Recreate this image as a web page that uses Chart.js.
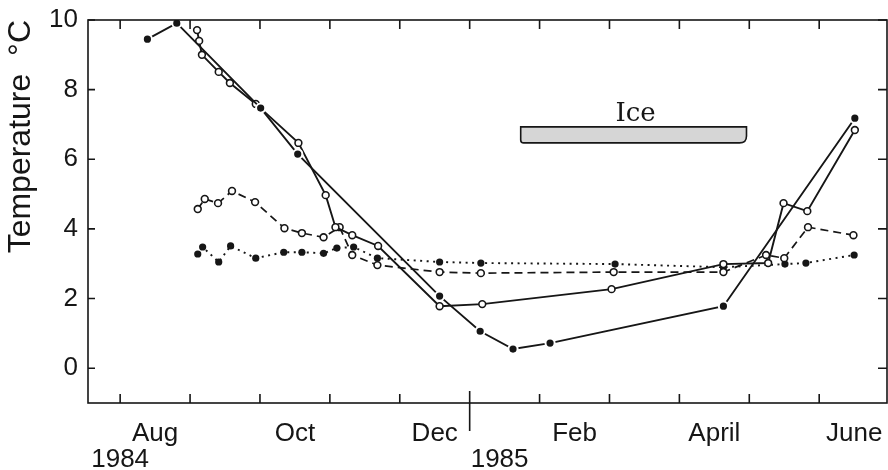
<!DOCTYPE html>
<html>
<head>
<meta charset="utf-8">
<script src="https://cdn.jsdelivr.net/npm/chart.js@4.4.1/dist/chart.umd.min.js"></script>
<style>
  html, body { margin: 0; padding: 0; background: #fff; }
  #wrap { width: 888px; height: 470px; }
</style>
</head>
<body>
<div id="wrap"><canvas id="myChart" width="888" height="470"></canvas></div>
<script>
// x values are months counted from 1 Aug 1984 (5 = 1 Jan 1985)
var monthLabels = ["Aug", "Oct", "Dec", "Feb", "April", "June"];
var monthLabelPos = [0.5, 2.5, 4.5, 6.5, 8.5, 10.5];
var monthBounds = [0, 1, 2, 3, 4, 5, 6, 7, 8, 9, 10, 11];
var yearLabels = ["1984", "1985"];
var yearPos = [0, 5];
var tempTicks = [0, 2, 4, 6, 8, 10];

// solid line, filled circles
var aMonths = [0.39, 0.81, 2.01, 2.54, 4.57, 5.15, 5.62, 6.15, 8.63, 10.51];
var aTemps  = [9.45, 9.91, 7.47, 6.15, 2.07, 1.06, 0.55, 0.72, 1.78, 7.18];

// solid line, open circles
var bMonths = [1.10, 1.13, 1.17, 1.41, 1.57, 1.94, 2.55, 2.94, 3.08, 3.32, 3.69, 4.57, 5.18, 7.03, 8.63, 9.27, 9.49, 9.83, 10.51];
var bTemps  = [9.71, 9.40, 9.00, 8.51, 8.19, 7.59, 6.47, 4.97, 4.05, 3.82, 3.51, 1.78, 1.84, 2.27, 2.99, 3.02, 4.74, 4.51, 6.84];

// dashed line, open circles
var cMonths = [1.11, 1.21, 1.40, 1.60, 1.93, 2.35, 2.60, 2.91, 3.14, 3.32, 3.68, 4.57, 5.16, 7.06, 8.63, 9.24, 9.50, 9.84, 10.49];
var cTemps  = [4.57, 4.86, 4.74, 5.09, 4.77, 4.02, 3.88, 3.76, 4.05, 3.25, 2.96, 2.76, 2.73, 2.76, 2.76, 3.25, 3.16, 4.05, 3.82];

// dotted line, filled circles
var dMonths = [1.11, 1.18, 1.41, 1.58, 1.94, 2.34, 2.60, 2.91, 3.10, 3.34, 3.68, 4.57, 5.16, 7.08, 8.63, 9.51, 9.81, 10.50];
var dTemps  = [3.28, 3.48, 3.05, 3.51, 3.16, 3.33, 3.33, 3.30, 3.45, 3.48, 3.16, 3.05, 3.02, 2.99, 2.90, 2.99, 3.02, 3.25];

// ice cover period (months) and the band it is drawn in (deg C)
var iceSpan = [5.73, 8.96];
var iceBand = [6.47, 6.93];

var ink = "#161616";
var font = "'Liberation Sans', 'DejaVu Sans', sans-serif";

function pts(xs, ys) {
    return xs.map(function (m, i) { return { x: m, y: ys[i] }; });
}

var decorations = {
    id: "decorations",
    beforeDatasetsDraw: function (chart) {
        var ctx = chart.ctx, sx = chart.scales.x, sy = chart.scales.y;
        var x0 = sx.getPixelForValue(iceSpan[0]), x1 = sx.getPixelForValue(iceSpan[1]);
        var y0 = sy.getPixelForValue(iceBand[1]), y1 = sy.getPixelForValue(iceBand[0]);
        var r = 7;
        ctx.save();
        ctx.beginPath();
        ctx.moveTo(x0, y0);
        ctx.lineTo(x1, y0);
        ctx.lineTo(x1, y1 - r);
        ctx.quadraticCurveTo(x1, y1, x1 - r, y1);
        ctx.lineTo(x0 + 3, y1);
        ctx.quadraticCurveTo(x0, y1, x0, y1 - 3);
        ctx.closePath();
        ctx.fillStyle = "#d6d6d6";
        ctx.fill();
        ctx.lineWidth = 1.6;
        ctx.strokeStyle = ink;
        ctx.stroke();
        ctx.fillStyle = ink;
        ctx.font = "26px 'DejaVu Serif', serif";
        ctx.textAlign = "center";
        ctx.textBaseline = "bottom";
        ctx.fillText("Ice", (x0 + x1) / 2 + 2, y0);
        ctx.restore();
    },
    afterDraw: function (chart) {
        var ctx = chart.ctx, a = chart.chartArea, sx = chart.scales.x, sy = chart.scales.y;
        ctx.save();
        ctx.strokeStyle = ink;
        ctx.lineWidth = 1.6;
        ctx.strokeRect(a.left, a.top, a.right - a.left, a.bottom - a.top);
        ctx.beginPath();
        monthBounds.forEach(function (m) {
            var px = sx.getPixelForValue(m);
            if (px < a.left || px > a.right) return;
            ctx.moveTo(px, a.bottom);
            ctx.lineTo(px, a.bottom - 9);
            ctx.moveTo(px, a.top);
            ctx.lineTo(px, a.top + 9);
        });
        tempTicks.forEach(function (t) {
            var py = sy.getPixelForValue(t);
            ctx.moveTo(a.left, py);
            ctx.lineTo(a.left + 7, py);
            ctx.moveTo(a.right, py);
            ctx.lineTo(a.right - 9, py);
        });
        // long tick at the turn of the year
        var jan = sx.getPixelForValue(yearPos[1]);
        ctx.moveTo(jan, a.bottom - 12);
        ctx.lineTo(jan, a.bottom + 28);
        ctx.stroke();

        ctx.fillStyle = ink;
        ctx.font = "26px " + font;
        ctx.textBaseline = "middle";
        ctx.textAlign = "center";
        ctx.fillText(yearLabels[0], sx.getPixelForValue(yearPos[0]), a.bottom + 57);
        ctx.textAlign = "left";
        ctx.fillText(yearLabels[1], jan + 1, a.bottom + 57);
        ctx.restore();
    }
};

var ctx = document.getElementById("myChart").getContext("2d");

var myChart = new Chart(ctx, {
    type: "scatter",
    data: {
        datasets: [
            {
                data: pts(aMonths, aTemps),
                showLine: true,
                borderColor: ink,
                borderWidth: 1.9,
                pointRadius: 4.6,
                pointBackgroundColor: ink,
                pointBorderColor: "#fff",
                pointBorderWidth: 2,
            },
            {
                data: pts(bMonths, bTemps),
                showLine: true,
                borderColor: ink,
                borderWidth: 1.9,
                pointRadius: 3.4,
                pointBackgroundColor: "#fff",
                pointBorderColor: ink,
                pointBorderWidth: 1.6,
            },
            {
                data: pts(cMonths, cTemps),
                showLine: true,
                borderColor: ink,
                borderWidth: 1.7,
                borderDash: [8, 5],
                pointRadius: 3.4,
                pointBackgroundColor: "#fff",
                pointBorderColor: ink,
                pointBorderWidth: 1.6,
            },
            {
                data: pts(dMonths, dTemps),
                showLine: true,
                borderColor: ink,
                borderWidth: 1.9,
                borderDash: [2, 4.5],
                pointRadius: 3.6,
                pointBackgroundColor: ink,
                pointBorderColor: ink,
                pointBorderWidth: 0,
            },
        ],
    },
    options: {
        responsive: false,
        animation: false,
        devicePixelRatio: 1,
        layout: { autoPadding: false, padding: { top: 20, right: 1, left: 0, bottom: 0 } },
        plugins: {
            legend: { display: false },
            tooltip: { enabled: false },
        },
        scales: {
            x: {
                type: "linear",
                min: -0.46,
                max: 10.97,
                grid: { display: false },
                border: { display: false },
                afterBuildTicks: function (scale) {
                    scale.ticks = monthLabelPos.map(function (v) { return { value: v }; });
                },
                afterFit: function (scale) {
                    scale.height = 67;
                    scale.paddingLeft = 0;
                    scale.paddingRight = 0;
                },
                ticks: {
                    autoSkip: false,
                    maxRotation: 0,
                    padding: 7,
                    color: ink,
                    font: { family: font, size: 26 },
                    callback: function (value, index) { return monthLabels[index]; },
                },
            },
            y: {
                min: -1,
                max: 10,
                grid: { display: false },
                border: { display: false },
                afterBuildTicks: function (scale) {
                    scale.ticks = tempTicks.map(function (v) { return { value: v }; });
                },
                afterFit: function (scale) {
                    scale.width = 88;
                    scale.paddingTop = 0;
                    scale.paddingBottom = 0;
                },
                ticks: {
                    padding: 2,
                    color: ink,
                    font: { family: font, size: 26 },
                },
                title: {
                    display: true,
                    text: "Temperature  \u00B0C",
                    align: "end",
                    color: ink,
                    padding: { top: 2, bottom: 0 },
                    font: { family: font, size: 32 },
                },
            },
        },
    },
    plugins: [decorations],
});
</script>
</body>
</html>
